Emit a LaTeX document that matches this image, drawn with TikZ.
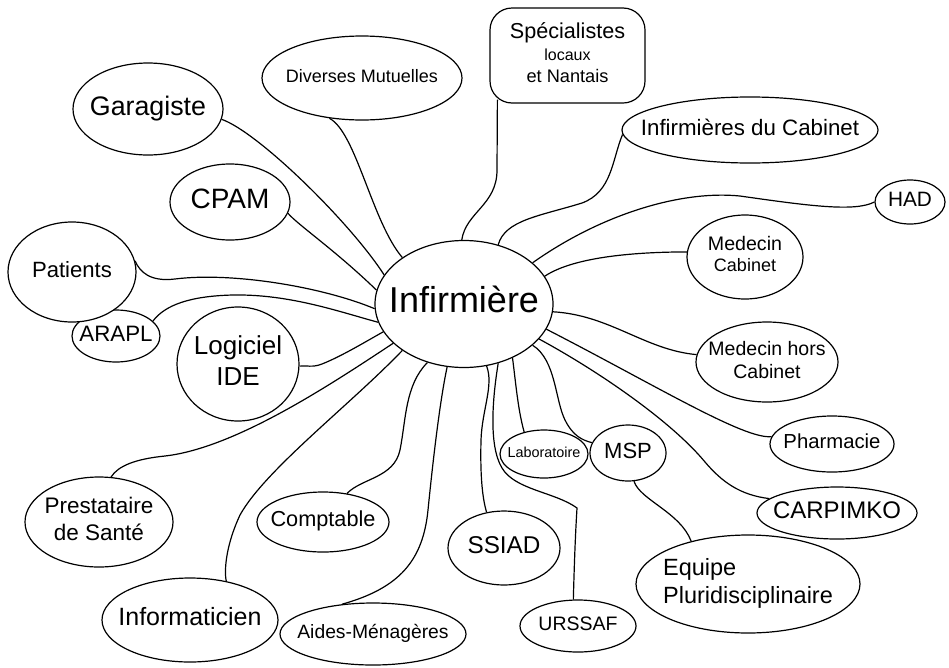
\documentclass[tikz,border=0pt]{standalone}
\usepackage{fontspec}
\setmainfont{Liberation Sans}
\usetikzlibrary{shapes.geometric}
\pgfdeclarelayer{back}
\pgfdeclarelayer{lines}
\pgfsetlayers{back,lines,main}
\newcommand{\myfs}[2]{\fontsize{#1}{#2}\selectfont}
\newcommand{\zcen}[1]{\makebox[0pt]{\begin{tabular}{@{}c@{}}#1\end{tabular}}}
\newcommand{\zlft}[1]{\makebox[0pt]{\begin{tabular}{@{}l@{}}#1\end{tabular}}}
\tikzset{
  bub/.style={draw, ellipse, fill=white, line width=1.2pt, inner sep=0pt, text=black},
  bubrect/.style={draw, rectangle, rounded corners=22pt, fill=white, line width=1.2pt, inner sep=0pt},
  link/.style={line width=1.2pt, black},
}
\begin{document}
\begin{tikzpicture}[x=1pt,y=-1pt]
\useasboundingbox (0,0) rectangle (949,667);
\begin{pgfonlayer}{back}
\fill[white] (0,0) rectangle (949,667);
\end{pgfonlayer}

% central node
\node[bub, minimum width=178pt, minimum height=127pt, font=\myfs{36}{40}] (c) at (464,304) {\zcen{Infirmière}};

% outer nodes
\node[bub, minimum width=150pt, minimum height=92pt, font=\myfs{26.8}{30}] (garag) at (148,109) {\zcen{Garagiste}};
\node[bub, minimum width=200pt, minimum height=84pt, font=\myfs{18}{21}] (mutu) at (362,78) {\zcen{Diverses Mutuelles}};
\node[bubrect, minimum width=155pt, minimum height=95pt, font=\myfs{18}{22}] (spec) at (567.5,55.5) {\zcen{{\myfs{21.6}{24}Spécialistes}\\{\myfs{16}{18}locaux}\\{\myfs{18.2}{20}et Nantais}}};
\node[bub, minimum width=256pt, minimum height=66pt, font=\myfs{22.3}{25}] (infcab) at (750,130) {\zcen{Infirmières du Cabinet}};
\node[bub, minimum width=70pt, minimum height=44pt, font=\myfs{20.8}{23}] (had) at (910,202) {\zcen{HAD}};
\node[bub, minimum width=116pt, minimum height=84pt, font=\myfs{18}{21}] (medcab) at (745,257) {\zcen{{\myfs{19.6}{23}Medecin}\\{\myfs{18}{21}Cabinet}}};
\node[bub, minimum width=142pt, minimum height=80pt, font=\myfs{19.5}{23}] (medhors) at (767,362) {\zcen{Medecin hors\\Cabinet}};
\node[bub, minimum width=124pt, minimum height=56pt, font=\myfs{20.3}{23}] (pharma) at (832,444) {\zcen{Pharmacie}};
\node[bub, minimum width=160pt, minimum height=52pt, font=\myfs{24}{27}] (carp) at (837,513) {\zcen{CARPIMKO}};
\node[bub, minimum width=224pt, minimum height=98pt, font=\myfs{23.5}{28}] (equipe) at (748,584) {\zlft{Equipe\\Pluridisciplinaire}};
\node[bub, minimum width=76pt, minimum height=56pt, font=\myfs{22}{25}] (msp) at (628,453) {\zcen{MSP}};
\node[bub, minimum width=88pt, minimum height=48pt, font=\myfs{14.4}{16}] (labo) at (544,454) {\zcen{Laboratoire}};
\node[bub, minimum width=116pt, minimum height=52pt, font=\myfs{19.5}{22}] (urssaf) at (578,626) {\zcen{URSSAF}};
\node[bub, minimum width=112pt, minimum height=74pt, font=\myfs{24.3}{27}] (ssiad) at (504,548) {\zcen{SSIAD}};
\node[bub, minimum width=186pt, minimum height=62pt, font=\myfs{19.3}{22}] (aides) at (373,634) {\zcen{Aides-Ménagères}};
\node[bub, minimum width=176pt, minimum height=84pt, font=\myfs{25}{28}] (info) at (190,620) {\zcen{Informaticien}};
\node[bub, minimum width=132pt, minimum height=60pt, font=\myfs{21.7}{24}] (compta) at (323,522) {\zcen{Comptable}};
\node[bub, minimum width=148pt, minimum height=90pt, font=\myfs{22.5}{27}] (presta) at (99,522) {\zcen{Prestataire\\de Santé}};
\node[bub, minimum width=122pt, minimum height=114pt, font=\myfs{26}{31}] (logi) at (238,364) {\zcen{Logiciel\\IDE}};
\node[bub, minimum width=88pt, minimum height=52pt, font=\myfs{22.3}{25}] (arapl) at (116,336) {\zcen{ARAPL}};
\node[bub, minimum width=128pt, minimum height=100pt, font=\myfs{22.1}{25}] (patients) at (72,272) {\zcen{Patients}};
\node[bub, minimum width=120pt, minimum height=76pt, font=\myfs{28}{31}] (cpam) at (230,202) {\zcen{CPAM}};

% connectors
\begin{pgfonlayer}{lines}
\draw[link] (garag.-8) .. controls (258,132) and (350,222) .. (c.160);
\draw[link] (mutu.-129) .. controls (356,132) and (372,222) .. (c.143);
\draw[link] ([xshift=8pt,yshift=4pt]spec.south west) -- (497,170) .. controls (497,205) and (466,212) .. (c.92);
\draw[link] (infcab.-178) .. controls (612,160) and (612,192) .. (582,203) .. controls (540,216) and (505,220) .. (c.60);
\draw[link] (had.180) .. controls (855,212) and (810,206) .. (740,196) .. controls (680,190) and (600,215) .. (c.31);
\draw[link] (medcab.175) .. controls (640,252) and (575,256) .. (c.19);
\draw[link] (medhors.174) .. controls (645,350) and (610,315) .. (c.-5);
\draw[link] (pharma.173) .. controls (745,440) and (655,385) .. (c.-17);
\draw[link] (carp.168) .. controls (740,495) and (722,482) .. (705,462) .. controls (672,422) and (600,372) .. (c.-25);
\draw[link] (c.-31) .. controls (556,360) and (555,400) .. (565,420) .. controls (573,436) and (582,440) .. (msp.164);
\draw[link] (msp.-78) .. controls (640,500) and (680,512) .. (equipe.143);
\draw[link] (c.-48) .. controls (516,385) and (518,410) .. (labo.132);
\draw[link] (c.-60) .. controls (493,395) and (488,445) .. (502,468) .. controls (515,490) and (555,492) .. (577,508) .. controls (575,540) and (574,575) .. (urssaf.100);
\draw[link] (c.-70) .. controls (494,385) and (482,410) .. (481,440) .. controls (480,480) and (483,500) .. (ssiad.116);
\draw[link] (c.-105) .. controls (440,400) and (433,460) .. (428,510) .. controls (423,560) and (400,588) .. (aides.136);
\draw[link] (c.-122) .. controls (405,385) and (406,420) .. (400,450) .. controls (394,478) and (362,478) .. (compta.50);
\draw[link] (c.-143) .. controls (350,405) and (265,470) .. (240,515) .. controls (226,545) and (224,570) .. (info.47);
\draw[link] (c.-151) .. controls (330,385) and (235,448) .. (165,456) .. controls (135,459) and (118,466) .. (presta.75);
\draw[link] (logi.-2) .. controls (306,365) and (312,368) .. (322,364) .. controls (342,356) and (365,342) .. (c.-161);
\draw[link] (arapl.22) .. controls (165,305) and (190,296) .. (233,295) .. controls (290,294) and (340,312) .. (c.-168);
\draw[link] (patients.10) .. controls (140,272) and (150,282) .. (175,279) .. controls (230,272) and (320,286) .. (c.-177);
\draw[link] (cpam.-11) .. controls (298,225) and (335,250) .. (c.171);
\end{pgfonlayer}
\end{tikzpicture}
\end{document}
